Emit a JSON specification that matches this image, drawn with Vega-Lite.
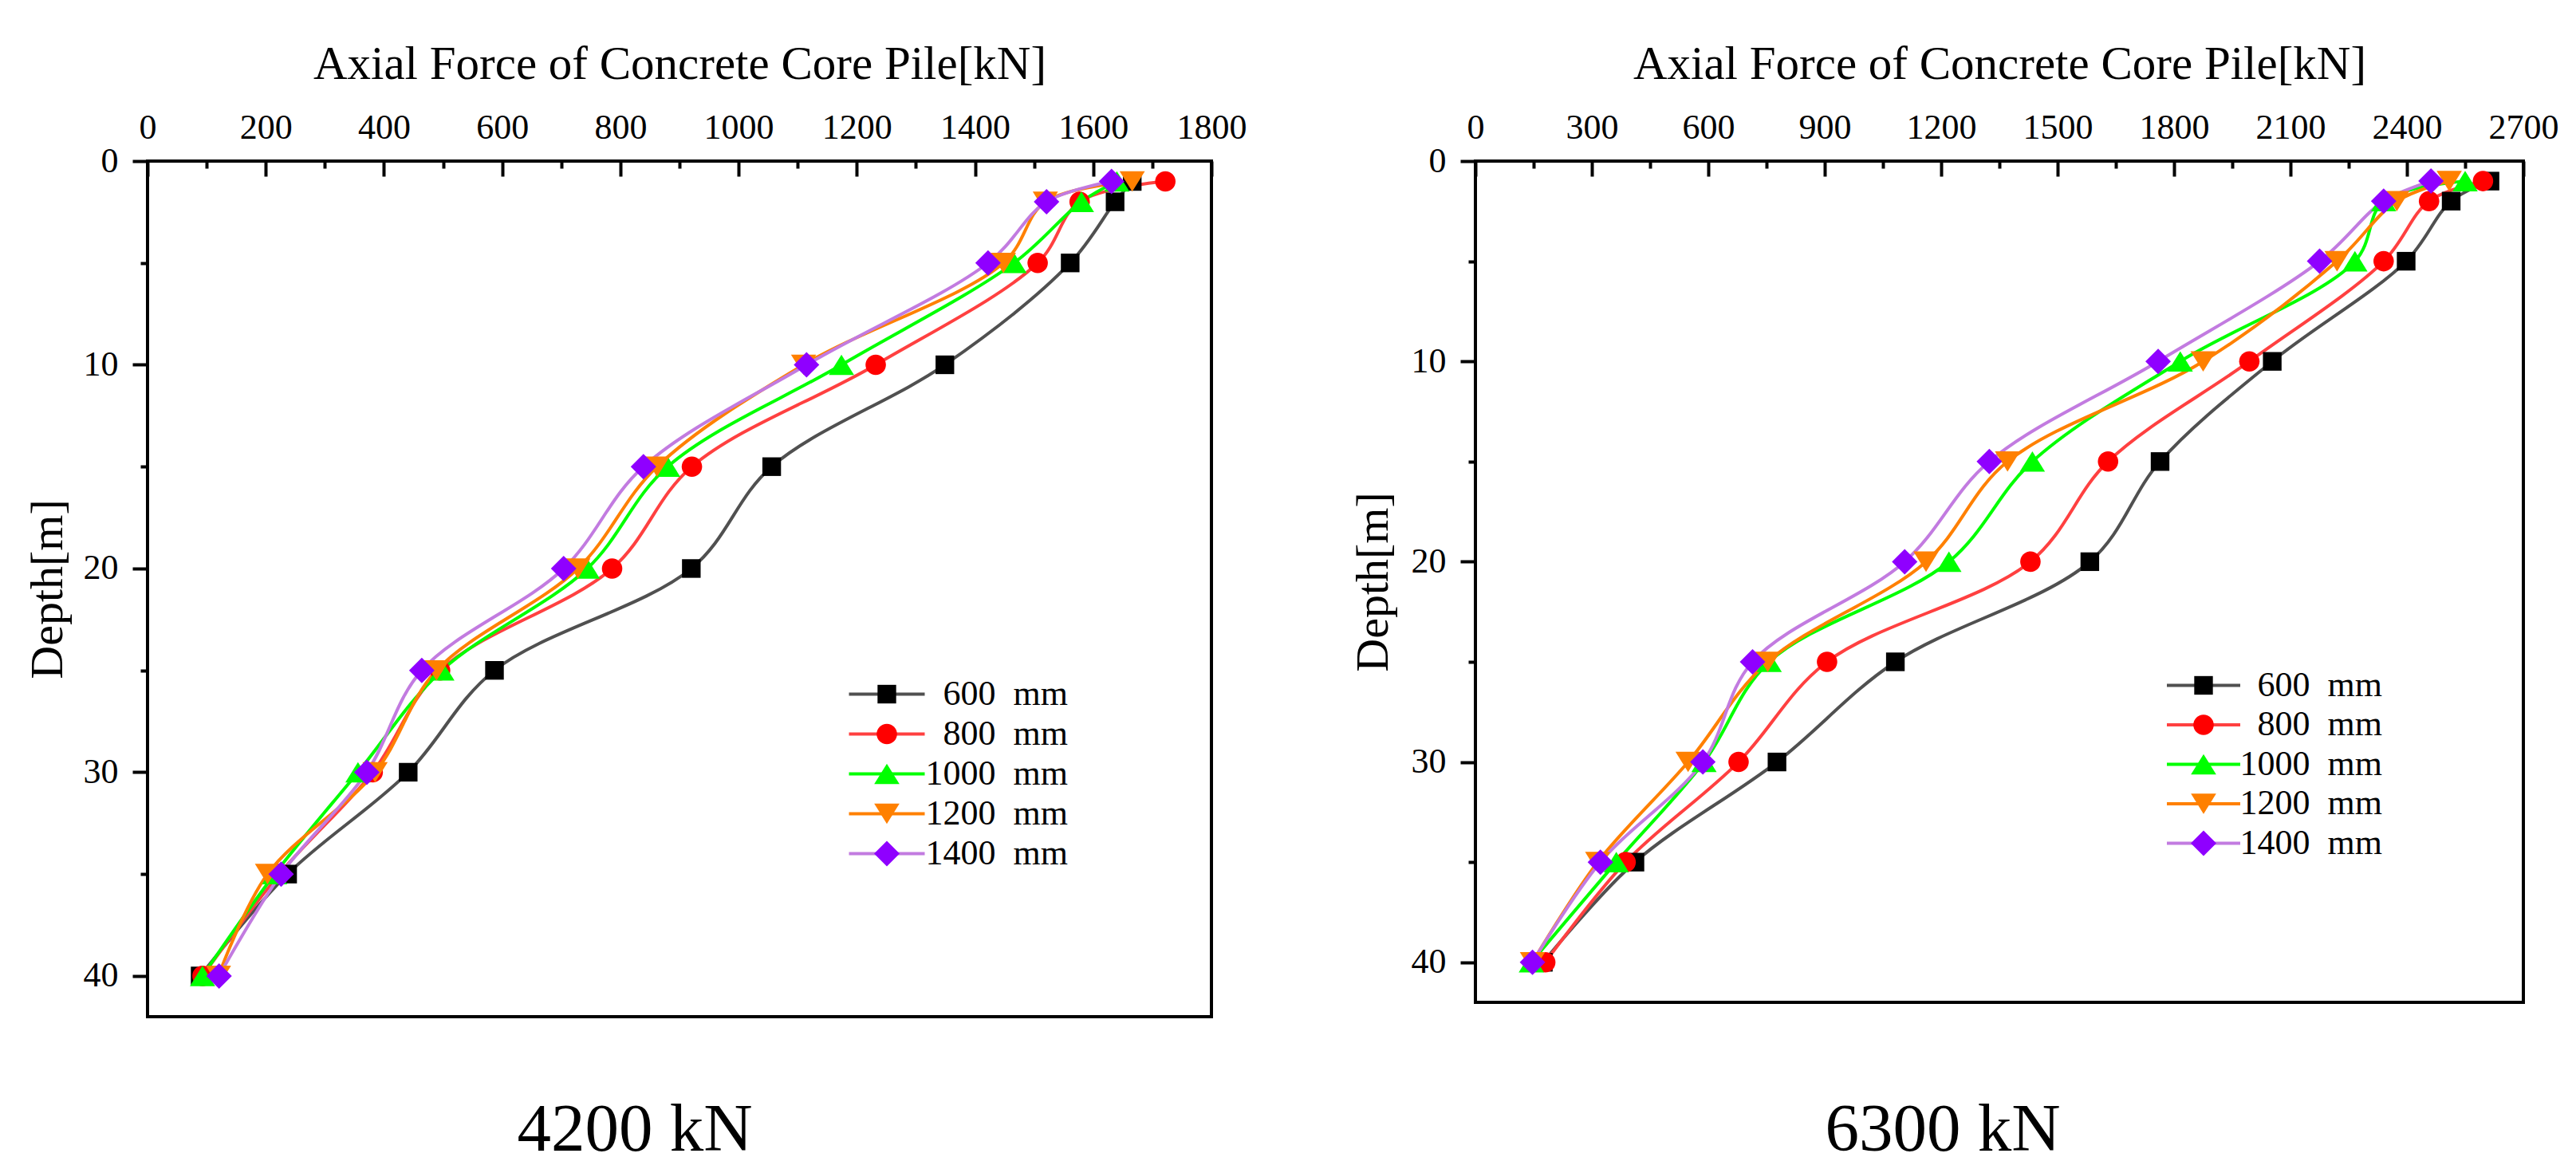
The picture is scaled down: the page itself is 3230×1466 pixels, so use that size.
{
  "$schema": "https://vega.github.io/schema/vega-lite/v6.json",
  "background": "white",
  "padding": {"left": 29, "top": 49, "right": 5, "bottom": 5},
  "datasets": {
    "load4200": [
      {"pile": "600 mm", "mark": "600 mm", "depth": 1, "force": 1666},
      {"pile": "600 mm", "mark": "600 mm", "depth": 2, "force": 1637},
      {"pile": "600 mm", "mark": "600 mm", "depth": 5, "force": 1561},
      {"pile": "600 mm", "mark": "600 mm", "depth": 10, "force": 1349},
      {"pile": "600 mm", "mark": "600 mm", "depth": 15, "force": 1056},
      {"pile": "600 mm", "mark": "600 mm", "depth": 20, "force": 920},
      {"pile": "600 mm", "mark": "600 mm", "depth": 25, "force": 587},
      {"pile": "600 mm", "mark": "600 mm", "depth": 30, "force": 441},
      {"pile": "600 mm", "mark": "600 mm", "depth": 35, "force": 237},
      {"pile": "600 mm", "mark": "600 mm", "depth": 40, "force": 89},
      {"pile": "800 mm", "mark": "800 mm", "depth": 1, "force": 1722},
      {"pile": "800 mm", "mark": "800 mm", "depth": 2, "force": 1577},
      {"pile": "800 mm", "mark": "800 mm", "depth": 5, "force": 1506},
      {"pile": "800 mm", "mark": "800 mm", "depth": 10, "force": 1232},
      {"pile": "800 mm", "mark": "800 mm", "depth": 15, "force": 921},
      {"pile": "800 mm", "mark": "800 mm", "depth": 20, "force": 786},
      {"pile": "800 mm", "mark": "800 mm", "depth": 25, "force": 495},
      {"pile": "800 mm", "mark": "800 mm", "depth": 30, "force": 381},
      {"pile": "800 mm", "mark": "800 mm", "depth": 35, "force": 223},
      {"pile": "800 mm", "mark": "800 mm", "depth": 40, "force": 93},
      {"pile": "1000 mm", "mark": "1000 mm", "depth": 1, "force": 1640},
      {"pile": "1000 mm", "mark": "1000 mm", "depth": 2, "force": 1580},
      {"pile": "1000 mm", "mark": "1000 mm", "depth": 5, "force": 1466},
      {"pile": "1000 mm", "mark": "1000 mm", "depth": 10, "force": 1174},
      {"pile": "1000 mm", "mark": "1000 mm", "depth": 15, "force": 880},
      {"pile": "1000 mm", "mark": "1000 mm", "depth": 20, "force": 744},
      {"pile": "1000 mm", "mark": "1000 mm", "depth": 25, "force": 498},
      {"pile": "1000 mm", "mark": "1000 mm", "depth": 30, "force": 356},
      {"pile": "1000 mm", "mark": "1000 mm", "depth": 35, "force": 215},
      {"pile": "1000 mm", "mark": "1000 mm", "depth": 40, "force": 93},
      {"pile": "1200 mm", "mark": "1200 mm", "depth": 1, "force": 1666},
      {"pile": "1200 mm", "mark": "1200 mm", "depth": 2, "force": 1519},
      {"pile": "1200 mm", "mark": "1200 mm", "depth": 5, "force": 1448},
      {"pile": "1200 mm", "mark": "1200 mm", "depth": 10, "force": 1110},
      {"pile": "1200 mm", "mark": "1200 mm", "depth": 15, "force": 862},
      {"pile": "1200 mm", "mark": "1200 mm", "depth": 20, "force": 728},
      {"pile": "1200 mm", "mark": "1200 mm", "depth": 25, "force": 489},
      {"pile": "1200 mm", "mark": "1200 mm", "depth": 30, "force": 385},
      {"pile": "1200 mm", "mark": "1200 mm", "depth": 35, "force": 203},
      {"pile": "1200 mm", "mark": "1200 mm", "depth": 40, "force": 120},
      {"pile": "1400 mm", "mark": "1400 mm", "depth": 1, "force": 1631},
      {"pile": "1400 mm", "mark": "1400 mm", "depth": 2, "force": 1521},
      {"pile": "1400 mm", "mark": "1400 mm", "depth": 5, "force": 1422},
      {"pile": "1400 mm", "mark": "1400 mm", "depth": 10, "force": 1115},
      {"pile": "1400 mm", "mark": "1400 mm", "depth": 15, "force": 839},
      {"pile": "1400 mm", "mark": "1400 mm", "depth": 20, "force": 704},
      {"pile": "1400 mm", "mark": "1400 mm", "depth": 25, "force": 464},
      {"pile": "1400 mm", "mark": "1400 mm", "depth": 30, "force": 371},
      {"pile": "1400 mm", "mark": "1400 mm", "depth": 35, "force": 226},
      {"pile": "1400 mm", "mark": "1400 mm", "depth": 40, "force": 121}
    ],
    "load6300": [
      {"pile": "600 mm", "mark": "600 mm", "depth": 1, "force": 2614},
      {"pile": "600 mm", "mark": "600 mm", "depth": 2, "force": 2514},
      {"pile": "600 mm", "mark": "600 mm", "depth": 5, "force": 2398},
      {"pile": "600 mm", "mark": "600 mm", "depth": 10, "force": 2053},
      {"pile": "600 mm", "mark": "600 mm", "depth": 15, "force": 1764},
      {"pile": "600 mm", "mark": "600 mm", "depth": 20, "force": 1583},
      {"pile": "600 mm", "mark": "600 mm", "depth": 25, "force": 1082},
      {"pile": "600 mm", "mark": "600 mm", "depth": 30, "force": 777},
      {"pile": "600 mm", "mark": "600 mm", "depth": 35, "force": 411},
      {"pile": "600 mm", "mark": "600 mm", "depth": 40, "force": 175},
      {"pile": "800 mm", "mark": "800 mm", "depth": 1, "force": 2596},
      {"pile": "800 mm", "mark": "800 mm", "depth": 2, "force": 2457},
      {"pile": "800 mm", "mark": "800 mm", "depth": 5, "force": 2340},
      {"pile": "800 mm", "mark": "800 mm", "depth": 10, "force": 1994},
      {"pile": "800 mm", "mark": "800 mm", "depth": 15, "force": 1630},
      {"pile": "800 mm", "mark": "800 mm", "depth": 20, "force": 1430},
      {"pile": "800 mm", "mark": "800 mm", "depth": 25, "force": 906},
      {"pile": "800 mm", "mark": "800 mm", "depth": 30, "force": 678},
      {"pile": "800 mm", "mark": "800 mm", "depth": 35, "force": 387},
      {"pile": "800 mm", "mark": "800 mm", "depth": 40, "force": 180},
      {"pile": "1000 mm", "mark": "1000 mm", "depth": 1, "force": 2550},
      {"pile": "1000 mm", "mark": "1000 mm", "depth": 2, "force": 2340},
      {"pile": "1000 mm", "mark": "1000 mm", "depth": 5, "force": 2266},
      {"pile": "1000 mm", "mark": "1000 mm", "depth": 10, "force": 1816},
      {"pile": "1000 mm", "mark": "1000 mm", "depth": 15, "force": 1435},
      {"pile": "1000 mm", "mark": "1000 mm", "depth": 20, "force": 1220},
      {"pile": "1000 mm", "mark": "1000 mm", "depth": 25, "force": 757},
      {"pile": "1000 mm", "mark": "1000 mm", "depth": 30, "force": 589},
      {"pile": "1000 mm", "mark": "1000 mm", "depth": 35, "force": 363},
      {"pile": "1000 mm", "mark": "1000 mm", "depth": 40, "force": 144},
      {"pile": "1200 mm", "mark": "1200 mm", "depth": 1, "force": 2509},
      {"pile": "1200 mm", "mark": "1200 mm", "depth": 2, "force": 2374},
      {"pile": "1200 mm", "mark": "1200 mm", "depth": 5, "force": 2220},
      {"pile": "1200 mm", "mark": "1200 mm", "depth": 10, "force": 1875},
      {"pile": "1200 mm", "mark": "1200 mm", "depth": 15, "force": 1371},
      {"pile": "1200 mm", "mark": "1200 mm", "depth": 20, "force": 1161},
      {"pile": "1200 mm", "mark": "1200 mm", "depth": 25, "force": 753},
      {"pile": "1200 mm", "mark": "1200 mm", "depth": 30, "force": 548},
      {"pile": "1200 mm", "mark": "1200 mm", "depth": 35, "force": 315},
      {"pile": "1200 mm", "mark": "1200 mm", "depth": 40, "force": 147},
      {"pile": "1400 mm", "mark": "1400 mm", "depth": 1, "force": 2462},
      {"pile": "1400 mm", "mark": "1400 mm", "depth": 2, "force": 2340},
      {"pile": "1400 mm", "mark": "1400 mm", "depth": 5, "force": 2175},
      {"pile": "1400 mm", "mark": "1400 mm", "depth": 10, "force": 1759},
      {"pile": "1400 mm", "mark": "1400 mm", "depth": 15, "force": 1324},
      {"pile": "1400 mm", "mark": "1400 mm", "depth": 20, "force": 1106},
      {"pile": "1400 mm", "mark": "1400 mm", "depth": 25, "force": 714},
      {"pile": "1400 mm", "mark": "1400 mm", "depth": 30, "force": 586},
      {"pile": "1400 mm", "mark": "1400 mm", "depth": 35, "force": 322},
      {"pile": "1400 mm", "mark": "1400 mm", "depth": 40, "force": 147}
    ]
  },
  "spacing": 331,
  "bounds": "flush",
  "hconcat": [
    {
      "width": 1334,
      "height": 1073,
      "data": {"name": "load4200"},
      "title": {"text": "4200 kN", "orient": "bottom", "anchor": "middle", "frame": "group", "dx": -56, "offset": 168, "baseline": "alphabetic", "fontSize": 85, "fontWeight": "normal", "font": "Liberation Serif", "color": "black"},
      "encoding": {
        "x": {
          "field": "force", "type": "quantitative",
          "scale": {"domain": [0, 1800], "nice": false, "zero": false},
          "axis": {
            "orient": "top", "format": "d",
            "values": [0, 100, 200, 300, 400, 500, 600, 700, 800, 900, 1000, 1100, 1200, 1300, 1400, 1500, 1600, 1700, 1800],
            "labelExpr": "datum.value % 200 === 0 ? datum.label : ''",
            "labelFlush": false, "labelOverlap": false,
            "labelFont": "Liberation Serif", "labelFontSize": 44, "labelColor": "black",
            "labelBaseline": "alphabetic", "labelPadding": 48,
            "tickSize": {"condition": {"test": "datum.value % 200 === 0", "value": -19}, "value": -9},
            "tickWidth": 4, "tickColor": "black", "domain": false, "grid": false,
            "title": "Axial Force of Concrete Core Pile[kN]",
            "titleFont": "Liberation Serif", "titleFontSize": 59, "titleFontWeight": "normal", "titleColor": "black",
            "titleY": -104, "titleBaseline": "alphabetic"
          }
        },
        "y": {
          "field": "depth", "type": "quantitative",
          "scale": {"domain": [0, 42], "reverse": true, "nice": false, "zero": false},
          "axis": {
            "orient": "left", "format": "d",
            "values": [0, 5, 10, 15, 20, 25, 30, 35, 40],
            "labelExpr": "datum.value % 10 === 0 ? datum.label : ''",
            "labelFlush": false, "labelOverlap": false,
            "labelFont": "Liberation Serif", "labelFontSize": 44, "labelColor": "black", "labelPadding": 18,
            "tickSize": {"condition": {"test": "datum.value % 10 === 0", "value": 19}, "value": 9},
            "tickWidth": 4, "tickColor": "black", "domain": false, "grid": false,
            "title": "Depth[m]",
            "titleFont": "Liberation Serif", "titleFontSize": 58, "titleFontWeight": "normal", "titleColor": "black",
            "titleX": -108, "titleBaseline": "alphabetic"
          }
        }
      },
      "layer": [
        {
          "mark": {"type": "line", "interpolate": "catmull-rom", "strokeWidth": 4},
          "encoding": {
            "stroke": {
              "field": "pile", "type": "nominal",
              "sort": ["600 mm", "800 mm", "1000 mm", "1200 mm", "1400 mm"],
              "scale": {"range": ["#505050", "#ff4040", "#00ff00", "#ff8000", "#c27be0"]},
              "legend": {"title": null, "orient": "none", "legendX": 905, "legendY": 646.5, "symbolType": "M-2.375,0L2.375,0", "symbolSize": 1600, "symbolStrokeWidth": 4, "labelFont": "Liberation Serif", "labelFontSize": 44, "labelColor": "black", "labelAlign": "right", "labelOffset": 205, "labelLimit": 600, "labelExpr": "replace(datum.label, ' ', '\u00a0\u00a0')", "rowPadding": 6, "padding": 0, "zindex": 1}
            },
            "order": {"field": "depth", "type": "quantitative"}
          }
        },
        {
          "mark": {"type": "point", "filled": true, "size": 1024, "opacity": 1, "strokeWidth": 0},
          "encoding": {
            "fill": {
              "field": "mark", "type": "nominal",
              "scale": {"domain": ["600 mm", "800 mm", "1000 mm", "1200 mm", "1400 mm"], "range": ["#000000", "#ff0000", "#00ff00", "#ff8000", "#8f00ff"]},
              "legend": {"title": null, "orient": "none", "legendX": 905, "legendY": 646.5, "symbolSize": 1024, "symbolStrokeWidth": 0, "symbolOpacity": 1, "labelOpacity": 0, "labelExpr": "''", "labelFontSize": 44, "rowPadding": 6, "padding": 0, "zindex": 2}
            },
            "shape": {
              "field": "mark", "type": "nominal",
              "scale": {"domain": ["600 mm", "800 mm", "1000 mm", "1200 mm", "1400 mm"], "range": ["M-0.73,-0.73H0.73V0.73H-0.73Z", "M0.8,0A0.8,0.8,0,1,1,-0.8,0A0.8,0.8,0,1,1,0.8,0Z", "M0,-0.8L0.99,0.8L-0.99,0.8Z", "M0,0.8L0.99,-0.8L-0.99,-0.8Z", "M0,-1L1,0L0,1L-1,0Z"]},
              "legend": {"title": null, "orient": "none", "legendX": 905, "legendY": 646.5, "symbolSize": 1024, "symbolStrokeWidth": 0, "symbolOpacity": 1, "labelOpacity": 0, "labelExpr": "''", "labelFontSize": 44, "rowPadding": 6, "padding": 0, "zindex": 2}
            }
          }
        }
      ]
    },
    {
      "width": 1314,
      "height": 1055,
      "data": {"name": "load6300"},
      "title": {"text": "6300 kN", "orient": "bottom", "anchor": "middle", "frame": "group", "dx": -71, "offset": 186, "baseline": "alphabetic", "fontSize": 85, "fontWeight": "normal", "font": "Liberation Serif", "color": "black"},
      "encoding": {
        "x": {
          "field": "force", "type": "quantitative",
          "scale": {"domain": [0, 2700], "nice": false, "zero": false},
          "axis": {
            "orient": "top", "format": "d",
            "values": [0, 150, 300, 450, 600, 750, 900, 1050, 1200, 1350, 1500, 1650, 1800, 1950, 2100, 2250, 2400, 2550, 2700],
            "labelExpr": "datum.value % 300 === 0 ? datum.label : ''",
            "labelFlush": false, "labelOverlap": false,
            "labelFont": "Liberation Serif", "labelFontSize": 44, "labelColor": "black",
            "labelBaseline": "alphabetic", "labelPadding": 48,
            "tickSize": {"condition": {"test": "datum.value % 300 === 0", "value": -19}, "value": -9},
            "tickWidth": 4, "tickColor": "black", "domain": false, "grid": false,
            "title": "Axial Force of Concrete Core Pile[kN]",
            "titleFont": "Liberation Serif", "titleFontSize": 59, "titleFontWeight": "normal", "titleColor": "black",
            "titleY": -104, "titleBaseline": "alphabetic"
          }
        },
        "y": {
          "field": "depth", "type": "quantitative",
          "scale": {"domain": [0, 42], "reverse": true, "nice": false, "zero": false},
          "axis": {
            "orient": "left", "format": "d",
            "values": [0, 5, 10, 15, 20, 25, 30, 35, 40],
            "labelExpr": "datum.value % 10 === 0 ? datum.label : ''",
            "labelFlush": false, "labelOverlap": false,
            "labelFont": "Liberation Serif", "labelFontSize": 44, "labelColor": "black", "labelPadding": 18,
            "tickSize": {"condition": {"test": "datum.value % 10 === 0", "value": 19}, "value": 9},
            "tickWidth": 4, "tickColor": "black", "domain": false, "grid": false,
            "title": "Depth[m]",
            "titleFont": "Liberation Serif", "titleFontSize": 58, "titleFontWeight": "normal", "titleColor": "black",
            "titleX": -111, "titleBaseline": "alphabetic"
          }
        }
      },
      "layer": [
        {
          "mark": {"type": "line", "interpolate": "catmull-rom", "strokeWidth": 4},
          "encoding": {
            "stroke": {
              "field": "pile", "type": "nominal",
              "sort": ["600 mm", "800 mm", "1000 mm", "1200 mm", "1400 mm"],
              "scale": {"range": ["#505050", "#ff4040", "#00ff00", "#ff8000", "#c27be0"]},
              "legend": {"title": null, "orient": "none", "legendX": 891, "legendY": 635.5, "symbolType": "M-2.3,0L2.3,0", "symbolSize": 1600, "symbolStrokeWidth": 4, "labelFont": "Liberation Serif", "labelFontSize": 44, "labelColor": "black", "labelAlign": "right", "labelOffset": 202, "labelLimit": 600, "labelExpr": "replace(datum.label, ' ', '\u00a0\u00a0')", "rowPadding": 5.5, "padding": 0, "zindex": 1}
            },
            "order": {"field": "depth", "type": "quantitative"}
          }
        },
        {
          "mark": {"type": "point", "filled": true, "size": 1024, "opacity": 1, "strokeWidth": 0},
          "encoding": {
            "fill": {
              "field": "mark", "type": "nominal",
              "scale": {"domain": ["600 mm", "800 mm", "1000 mm", "1200 mm", "1400 mm"], "range": ["#000000", "#ff0000", "#00ff00", "#ff8000", "#8f00ff"]},
              "legend": {"title": null, "orient": "none", "legendX": 891, "legendY": 635.5, "symbolSize": 1024, "symbolStrokeWidth": 0, "symbolOpacity": 1, "labelOpacity": 0, "labelExpr": "''", "labelFontSize": 44, "rowPadding": 5.5, "padding": 0, "zindex": 2}
            },
            "shape": {
              "field": "mark", "type": "nominal",
              "scale": {"domain": ["600 mm", "800 mm", "1000 mm", "1200 mm", "1400 mm"], "range": ["M-0.73,-0.73H0.73V0.73H-0.73Z", "M0.8,0A0.8,0.8,0,1,1,-0.8,0A0.8,0.8,0,1,1,0.8,0Z", "M0,-0.8L0.99,0.8L-0.99,0.8Z", "M0,0.8L0.99,-0.8L-0.99,-0.8Z", "M0,-1L1,0L0,1L-1,0Z"]},
              "legend": {"title": null, "orient": "none", "legendX": 891, "legendY": 635.5, "symbolSize": 1024, "symbolStrokeWidth": 0, "symbolOpacity": 1, "labelOpacity": 0, "labelExpr": "''", "labelFontSize": 44, "rowPadding": 5.5, "padding": 0, "zindex": 2}
            }
          }
        }
      ]
    }
  ],
  "resolve": {
    "scale": {"x": "independent", "y": "independent", "stroke": "independent", "fill": "independent", "shape": "independent"},
    "legend": {"stroke": "independent", "fill": "independent", "shape": "independent"}
  },
  "config": {
    "view": {"stroke": "black", "strokeWidth": 4},
    "font": "Liberation Serif"
  }
}
